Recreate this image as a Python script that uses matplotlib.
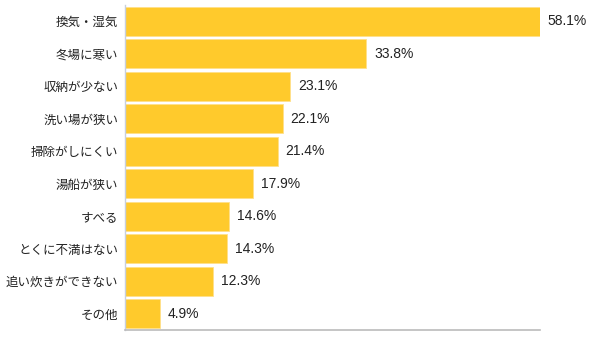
import matplotlib
matplotlib.use("Agg")
import matplotlib.pyplot as plt

plt.rcParams['font.family'] = ['Noto Sans CJK JP', 'DejaVu Sans']

categories = ["換気・湿気", "冬場に寒い", "収納が少ない", "洗い場が狭い", "掃除がしにくい",
              "湯船が狭い", "すべる", "とくに不満はない", "追い炊きができない", "その他"]
values = [58.1, 33.8, 23.1, 22.1, 21.4, 17.9, 14.6, 14.3, 12.3, 4.9]
value_labels = ["58.1%", "33.8%", "23.1%", "22.1%", "21.4%",
                "17.9%", "14.6%", "14.3%", "12.3%", "4.9%"]

fig = plt.figure(figsize=(6.01, 3.38), dpi=100)
ax = fig.add_axes([125 / 601, 8 / 338, 415 / 601, 325 / 338])

ypos = list(range(len(categories)))
ax.barh(ypos, values, height=0.9, color="#ffca2c", edgecolor="#ffe08a", linewidth=0.6)

for y, v, lab in zip(ypos, values, value_labels):
    ax.text(v + 1.1, y, lab, va="center", ha="left", fontsize=10,
            family=["Liberation Sans"], color="#222222")

ax.set_yticks(ypos)
ax.set_yticklabels(categories, fontsize=9, color="#222222")
ax.tick_params(axis="y", length=0, pad=5)
ax.set_xticks([])
ax.set_xlim(0, 58.1)
ax.set_ylim(len(categories) - 0.5, -0.5)

for s in ["top", "right"]:
    ax.spines[s].set_visible(False)
ax.spines["left"].set_color("#c8d0dc")
ax.spines["bottom"].set_color("#bbbbbb")
ax.spines["left"].set_linewidth(1)
ax.spines["bottom"].set_linewidth(1.2)

fig.savefig("out.png", dpi=100)
